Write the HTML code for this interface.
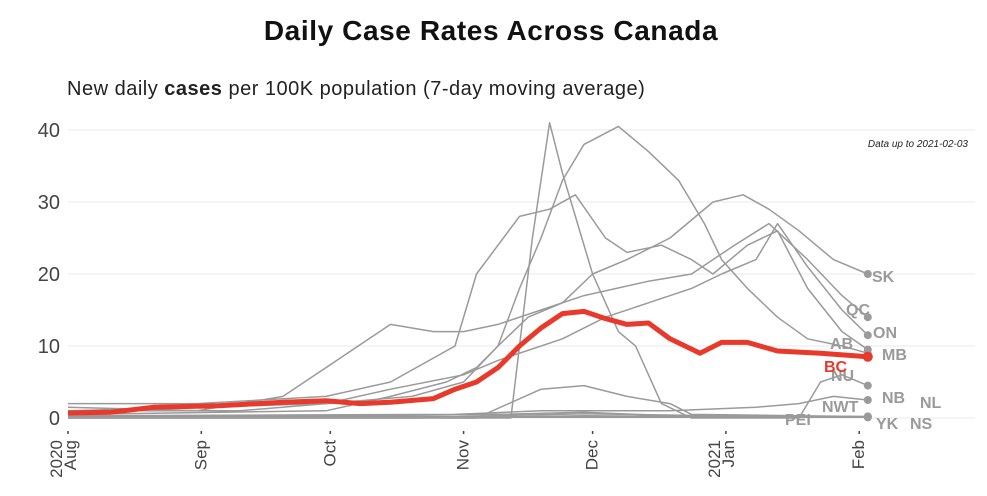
<!DOCTYPE html>
<html><head><meta charset="utf-8">
<style>
body{margin:0;background:#fff;width:987px;height:491px;overflow:hidden;font-family:"Liberation Sans",sans-serif}
</style></head><body>
<svg id="chart" width="987" height="491" viewBox="0 0 987 491">
<text x="491" y="40" text-anchor="middle" font-size="28" font-weight="bold" letter-spacing="0.6" fill="#111">Daily Case Rates Across Canada</text>
<text x="67" y="95" font-size="20" letter-spacing="0.5" fill="#222">New daily <tspan font-weight="bold">cases</tspan> per 100K population (7-day  moving average)</text>
<text x="968" y="147" text-anchor="end" font-size="10" font-style="italic" fill="#222">Data up to 2021-02-03</text>
<g id="grid"></g><g id="xaxis"></g><g id="lines"></g><g id="labels"></g>
</svg>
<script>
const yTicks=[0,10,20,30,40];
const monthDays=[0,31,61,92,122,153,184];
const monthLabels=[["2020","Aug"],["Sep"],["Oct"],["Nov"],["Dec"],["2021","Jan"],["Feb"]];
const provinces=["SK","MB","AB","ON","QC","NU","NB","NL","NWT","YK","NS","PEI","BC"];
const days_SK=[0,30,60,80,92,100,107,115,122,130,140,150,157,163,170,178,186];
const vals_SK=[1,1.5,2,3,5,10,14,16,20,22,25,30,31,29,26,22,20];
const days_MB=[0,60,75,88,95,100,105,110,115,120,128,135,142,148,152,158,165,172,180,186];
const vals_MB=[0.5,1,3,5,7,10,18,25,33,38,40.5,37,33,27,22,18,14,11,10,9];
const days_AB=[0,30,60,75,90,95,100,105,112,118,125,130,138,145,150,158,165,172,180,186];
const vals_AB=[2,2,3,5,10,20,24,28,29,31,25,23,24,22,20,24,26,18,12,9.5];
const days_ON=[0,40,60,75,92,100,115,125,135,145,152,160,165,172,180,186];
const vals_ON=[1,1,2,4,6,8,11,14,16,18,20,22,27,21,15,11.5];
const days_QC=[0,30,50,60,70,75,85,92,100,110,120,135,145,155,163,172,180,186];
const vals_QC=[1.5,1,3,7,11,13,12,12,13,15,17,19,20,24,27,22,17,14];
const days_NU=[0,103,108,112,115,118,122,128,132,138,145,170,175,180,186];
const vals_NU=[0,0,25,41,34,28,20,12,10,2,0,0,5,6,4.5];
const days_NB=[0,90,110,140,160,170,178,186];
const vals_NB=[0.3,0.5,1,1,1.5,2,3,2.5];
const days_NL=[0,95,110,120,130,140,145,186];
const vals_NL=[0.2,0,4,4.5,3,2,0.5,0.2];
const days_NWT=[0,60,90,120,150,186];
const vals_NWT=[0.1,0.3,0.2,0.6,0.3,0.2];
const days_YK=[0,80,120,186];
const vals_YK=[0,0,0.3,0.1];
const days_NS=[0,100,120,140,186];
const vals_NS=[0.1,0.5,0.8,0.3,0.2];
const days_PEI=[0,186];
const vals_PEI=[0.1,0.1];
const days_BC=[0,10,20,35,50,60,68,75,85,90,95,100,105,110,115,120,125,130,135,140,147,152,158,165,175,186];
const vals_BC=[0.7,0.8,1.5,1.7,2.2,2.4,2.0,2.2,2.7,4,5,7,10,12.5,14.5,14.8,13.8,13,13.2,11,9,10.5,10.5,9.3,9,8.5];
const series={SK:[days_SK,vals_SK],MB:[days_MB,vals_MB],AB:[days_AB,vals_AB],ON:[days_ON,vals_ON],QC:[days_QC,vals_QC],NU:[days_NU,vals_NU],NB:[days_NB,vals_NB],NL:[days_NL,vals_NL],NWT:[days_NWT,vals_NWT],YK:[days_YK,vals_YK],NS:[days_NS,vals_NS],PEI:[days_PEI,vals_PEI],BC:[days_BC,vals_BC]};
const labelPos={SK:[872,282],QC:[846,315],ON:[873,338],AB:[830,349],MB:[882,360],BC:[824,372],NU:[831,381],NB:[882,403],NL:[920,408],NWT:[822,412],PEI:[785,425],YK:[876,429],NS:[910,429]};
const X=d=>68+d*4.3, Y=v=>418-v*7.2;
const NS_="http://www.w3.org/2000/svg";
function mk(t,a,p){const e=document.createElementNS(NS_,t);for(const k in a)e.setAttribute(k,a[k]);p.appendChild(e);return e;}
const grid=document.getElementById('grid');
yTicks.forEach(t=>{
  const l=mk('line',{x1:68,x2:975,y1:Y(t),y2:Y(t),stroke:'#e8e8e8','stroke-width':1},grid);
  
  
  const tx=mk('text',{x:60,y:Y(t)+7,'text-anchor':'end','font-size':20,fill:'#444'},grid);
  tx.textContent=t;
  
  
});
const xa=document.getElementById('xaxis');
monthDays.forEach((d,i)=>{
  const x=X(d);
  const tk=mk('line',{x1:x,x2:x,y1:431,y2:434,stroke:'#444','stroke-width':1.5},xa);
  
  
  const lines=monthLabels[i];
  lines.forEach((s,j)=>{
    const off=(lines.length===2?(j===0?-6:8):5);
    const tx=mk('text',{transform:`translate(${x+off},440) rotate(-90)`,'text-anchor':'end','font-size':17,fill:'#444'},xa);
    tx.textContent=s;
    
    
  });
});
const lg=document.getElementById('lines'), lb=document.getElementById('labels');
provinces.forEach(p=>{
  const [ds,vs]=series[p];const bc=p==='BC';
  const pts=ds.map((d,i)=>X(d).toFixed(1)+','+Y(vs[i]).toFixed(1)).join(' ');
  const pl=mk('polyline',{points:pts,fill:'none',stroke:bc?'#e8392b':'#9a9a9a','stroke-width':bc?5:1.5,'stroke-linejoin':'round'},lg);
  
  
  const li=ds.length-1;
  const c=mk('circle',{cx:X(ds[li]),cy:Y(vs[li]),r:bc?5:4,fill:bc?'#e8392b':'#9a9a9a'},lg);
  
  
  const [lx,ly]=labelPos[p];
  const t=mk('text',{x:lx,y:ly,'font-size':16,'font-weight':'bold',fill:bc?'#e8392b':'#9a9a9a'},lb);
  t.textContent=p;
  
  
});
</script>
</body></html>
